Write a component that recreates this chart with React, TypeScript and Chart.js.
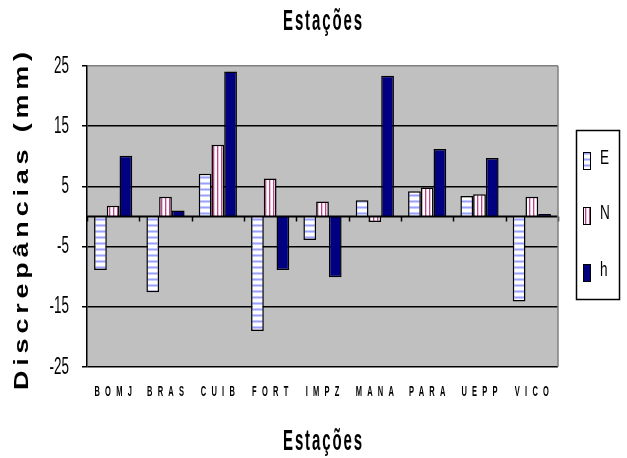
import React, { useEffect, useRef } from "react";
import { Chart, registerables } from "chart.js";

Chart.register(...registerables);

const categories = ["BOMJ", "BRAS", "CUIB", "FORT", "IMPZ", "MANA", "PARA", "UEPP", "VICO"];
const seriesNames = ["E", "N", "h"];
const seriesE = [-8.9, -12.6, 7.1, -19.0, -3.9, 2.7, 4.2, 3.4, -14.1];
const seriesN = [1.8, 3.3, 11.9, 6.3, 2.5, -0.9, 4.8, 3.7, 3.3];
const seriesH = [10.1, 1.0, 24.1, -8.9, -10.1, 23.4, 11.2, 9.7, 0.4];
const yMin = -25;
const yMax = 25;
const yStep = 10;
const chartTitle = "Estações";
const xTitle = "Estações";
const yTitle = "Discrepâncias (mm)";

const SANS = '"Liberation Sans", Arial, sans-serif';

function makePattern(kind: "h" | "v"): CanvasPattern | string {
  const c = document.createElement("canvas");
  const g = c.getContext("2d")!;
  if (kind === "h") {
    c.width = 6;
    c.height = 6;
    g.fillStyle = "#ffffff";
    g.fillRect(0, 0, 6, 6);
    g.fillStyle = "#c8ccff";
    g.fillRect(0, 2, 6, 1);
    g.fillStyle = "#9aa0ff";
    g.fillRect(0, 3, 6, 1);
    g.fillStyle = "#c8ccff";
    g.fillRect(0, 4, 6, 1);
  } else {
    c.width = 4;
    c.height = 4;
    g.fillStyle = "#ffffff";
    g.fillRect(0, 0, 4, 4);
    g.fillStyle = "#c0448a";
    g.fillRect(1, 0, 1, 4);
    g.fillStyle = "#ecc0d8";
    g.fillRect(2, 0, 1, 4);
  }
  return g.createPattern(c, "repeat") || "#ffffff";
}

function drawText(
  ctx: CanvasRenderingContext2D,
  text: string,
  x: number,
  y: number,
  font: string,
  spacing: number,
  sx: number,
  sy: number,
  align: "left" | "center" | "right",
  rotate = 0,
  targetLen = 0
) {
  ctx.save();
  ctx.translate(x, y);
  if (rotate) ctx.rotate(rotate);
  ctx.scale(sx, sy);
  ctx.font = font;
  ctx.textBaseline = "middle";
  ctx.textAlign = "left";
  ctx.fillStyle = "#000";
  let sp = spacing;
  if (targetLen > 0) {
    (ctx as any).letterSpacing = "0px";
    const nat = ctx.measureText(text).width;
    sp = Math.max(0, (targetLen / sx - nat) / (text.length - 1));
  }
  (ctx as any).letterSpacing = sp + "px";
  const w = ctx.measureText(text).width - sp;
  let ox = 0;
  if (align === "center") ox = -w / 2;
  else if (align === "right") ox = -w;
  ctx.fillText(text, ox, 0);
  ctx.restore();
}

export default function App() {
  const ref = useRef<HTMLCanvasElement | null>(null);

  useEffect(() => {
    const canvas = ref.current;
    if (!canvas) return;
    const patE = makePattern("h");
    const patN = makePattern("v");
    const colH = "#000080";
    const fills = [patE, patN, colH];

    const decor = {
      id: "decor",
      beforeDraw(chart: any) {
        const { ctx, chartArea: a } = chart;
        ctx.save();
        ctx.fillStyle = "#ffffff";
        ctx.fillRect(0, 0, chart.width, chart.height);
        ctx.fillStyle = "#c0c0c0";
        ctx.fillRect(a.left, a.top, a.right - a.left, a.bottom - a.top);
        ctx.restore();
      },
      afterDatasetsDraw(chart: any) {
        const { ctx, chartArea: a } = chart;
        const xs = chart.scales.x;
        const ys = chart.scales.y;
        const y0 = ys.getPixelForValue(0);
        ctx.save();
        ctx.strokeStyle = "#000";
        ctx.lineWidth = 2;
        ctx.beginPath();
        ctx.moveTo(a.left, y0);
        ctx.lineTo(a.right, y0);
        ctx.stroke();
        ctx.lineWidth = 1.5;
        const n = categories.length;
        const half = (xs.getPixelForValue(1) - xs.getPixelForValue(0)) / 2;
        for (let i = 0; i <= n; i++) {
          const px = i < n ? xs.getPixelForValue(i) - half : xs.getPixelForValue(n - 1) + half;
          ctx.beginPath();
          ctx.moveTo(Math.round(px) + 0.5, y0);
          ctx.lineTo(Math.round(px) + 0.5, y0 + 5);
          ctx.stroke();
        }
        ctx.strokeStyle = "#808080";
        ctx.lineWidth = 1.5;
        ctx.beginPath();
        ctx.moveTo(a.right, a.top);
        ctx.lineTo(a.right, a.bottom);
        ctx.stroke();
        ctx.restore();
      },
      afterDraw(chart: any) {
        const { ctx, chartArea: a } = chart;
        const xs = chart.scales.x;
        const ys = chart.scales.y;
        const cx = (a.left + a.right) / 2;
        drawText(ctx, chartTitle, cx, 22, `bold 20px ${SANS}`, 2.5, 0.75, 1.45, "center");
        drawText(ctx, xTitle, cx, 442, `bold 20px ${SANS}`, 2.5, 0.75, 1.45, "center");
        drawText(ctx, yTitle, 22, 221, `bold 20px ${SANS}`, 0, 1.35, 1, "center", -Math.PI / 2, 338);
        for (const t of ys.ticks) {
          drawText(ctx, String(t.value), a.left - 18, ys.getPixelForValue(t.value), `16px ${SANS}`, 0, 0.84, 1.5, "right");
        }
        categories.forEach((c, i) => {
          drawText(ctx, c, xs.getPixelForValue(i), 392, `bold 10px ${SANS}`, 7, 0.75, 1.45, "center");
        });
        ctx.save();
        ctx.fillStyle = "#ffffff";
        ctx.fillRect(576, 130, 43, 169);
        ctx.strokeStyle = "#000";
        ctx.lineWidth = 1.5;
        ctx.strokeRect(576.5, 130.5, 43, 169);
        const centers = [161, 216, 273];
        seriesNames.forEach((s, i) => {
          ctx.fillStyle = fills[i] as any;
          ctx.fillRect(583, centers[i] - 9, 8, 18);
          ctx.strokeStyle = "#000";
          ctx.lineWidth = 1;
          ctx.strokeRect(583.5, centers[i] - 8.5, 7, 17);
          drawText(ctx, s, 600, centers[i] - 3, `16px ${SANS}`, 0, 0.85, 1.25, "left");
        });
        ctx.restore();
      },
    };

    const chart = new Chart(canvas, {
      type: "bar",
      data: {
        labels: categories,
        datasets: [
          { label: seriesNames[0], data: seriesE, backgroundColor: patE as any, borderColor: "#000", borderWidth: 1.5 },
          { label: seriesNames[1], data: seriesN, backgroundColor: patN as any, borderColor: "#000", borderWidth: 1.5 },
          { label: seriesNames[2], data: seriesH, backgroundColor: colH, borderColor: "#000", borderWidth: 1.5 },
        ],
      },
      options: {
        responsive: false,
        animation: false,
        events: [],
        layout: { padding: { left: 0, right: 69, top: 66, bottom: 0 } },
        datasets: { bar: { categoryPercentage: 0.73, barPercentage: 1.0 } },
        plugins: { legend: { display: false }, title: { display: false }, tooltip: { enabled: false } },
        scales: {
          x: {
            ticks: { display: false },
            grid: { display: false, drawTicks: false },
            border: { display: false },
            afterFit: (s: any) => {
              s.height = 91;
            },
          },
          y: {
            min: yMin,
            max: yMax,
            ticks: { display: false, stepSize: yStep },
            grid: {
              color: (c: any) => (c.tick && c.tick.value === yMax ? "#808080" : "#000"),
              lineWidth: 1.5,
              drawTicks: true,
              tickLength: 5,
              tickColor: "#000",
            },
            border: { display: true, color: "#000", width: 1.5 },
            afterFit: (s: any) => {
              s.width = 87;
            },
          },
        },
      },
      plugins: [decor],
    });
    return () => chart.destroy();
  }, []);

  return (
    <div style={{ position: "absolute", left: 0, top: 0, width: 627, height: 458, background: "#fff" }}>
      <canvas ref={ref} width={627} height={458} style={{ display: "block" }} />
    </div>
  );
}
